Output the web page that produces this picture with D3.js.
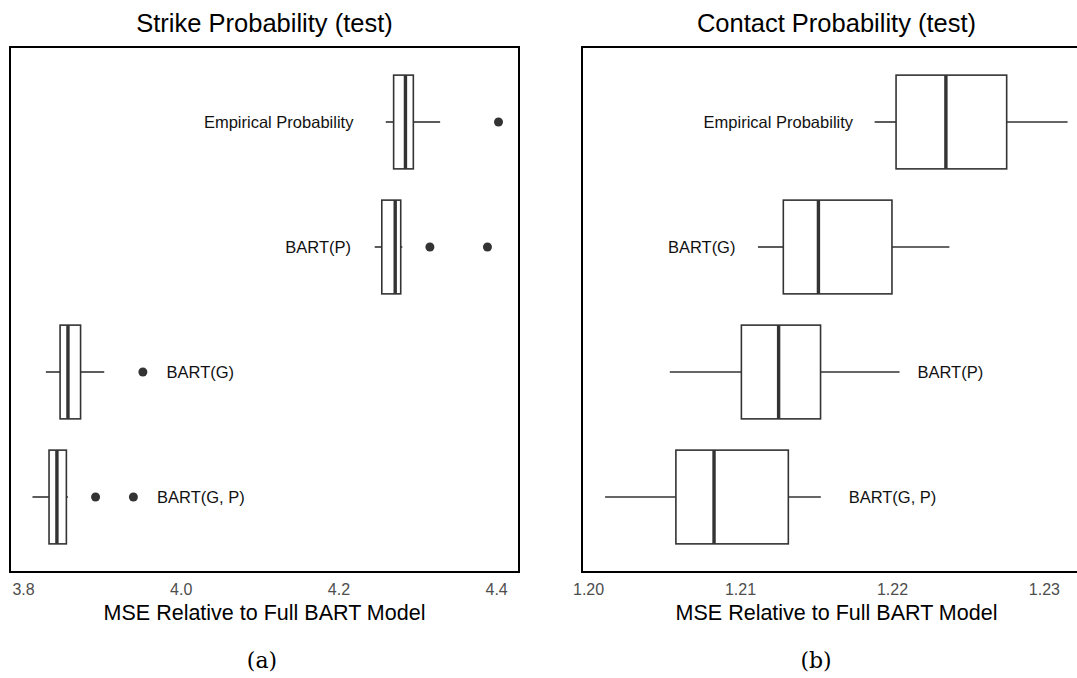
<!DOCTYPE html>
<html>
<head>
<meta charset="utf-8">
<script src="https://cdn.jsdelivr.net/npm/d3@7"></script>
<style>
    body { margin: 0; background: white; }
    svg { display: block; font-family: "Liberation Sans", Arial, sans-serif; }
</style>
</head>
<body>
<script>
// ---- data ----
const strike_cats = ["Empirical Probability", "BART(P)", "BART(G)", "BART(G, P)"];
const strike_lo = [4.260, 4.246, 3.829, 3.812];
const strike_q1 = [4.270, 4.255, 3.847, 3.833];
const strike_med = [4.285, 4.272, 3.857, 3.843];
const strike_q3 = [4.295, 4.279, 3.873, 3.855];
const strike_hi = [4.329, 4.281, 3.903, 3.857];
const strike_out = [[4.403], [4.316, 4.389], [3.952], [3.892, 3.940]];
const strike_label_x = [4.219, 4.216, 3.982, 3.970];
const strike_ticks = [3.8, 4.0, 4.2, 4.4];

const contact_cats = ["Empirical Probability", "BART(G)", "BART(P)", "BART(G, P)"];
const contact_lo = [1.21886, 1.21118, 1.20538, 1.20112];
const contact_q1 = [1.22027, 1.21285, 1.21009, 1.20578];
const contact_med = [1.22355, 1.21516, 1.21254, 1.20829];
const contact_q3 = [1.22755, 1.22000, 1.21530, 1.21318];
const contact_hi = [1.23156, 1.22378, 1.22050, 1.21532];
const contact_out = [[], [], [], []];
const contact_label_x = [1.21744, 1.20970, 1.22168, 1.21715];
const contact_ticks = [1.20, 1.21, 1.22, 1.23];

const W = 1077, H = 678;

const svg = d3.select("body")
    .append("svg")
    .attr("width", W)
    .attr("height", H);

function make_panel(opts) {
    const { left, right, top, bottom, domain, title, caption, fmt } = opts;
    const g = svg.append("g");

    const x = d3.scaleLinear().domain(domain).range([left, right]);
    const y = d3.scalePoint()
        .domain(opts.cats)
        .range([top, bottom])
        .padding(0.6);
    const box_h = y.step() * 0.75;

    const rows = opts.cats.map((c, i) => ({
        cat: c,
        lo: opts.lo[i], q1: opts.q1[i], med: opts.med[i],
        q3: opts.q3[i], hi: opts.hi[i],
        out: opts.out[i], lx: opts.label_x[i]
    }));

    const row = g.selectAll("g.row")
        .data(rows)
        .join("g")
        .attr("class", "row");

    // whiskers
    row.append("line")
        .attr("x1", d => x(d.lo))
        .attr("x2", d => x(d.q1))
        .attr("y1", d => y(d.cat))
        .attr("y2", d => y(d.cat))
        .attr("stroke", "#333")
        .attr("stroke-width", 1.6);
    row.append("line")
        .attr("x1", d => x(d.q3))
        .attr("x2", d => x(d.hi))
        .attr("y1", d => y(d.cat))
        .attr("y2", d => y(d.cat))
        .attr("stroke", "#333")
        .attr("stroke-width", 1.6);

    // box
    row.append("rect")
        .attr("x", d => x(d.q1))
        .attr("width", d => x(d.q3) - x(d.q1))
        .attr("y", d => y(d.cat) - box_h / 2)
        .attr("height", box_h)
        .attr("fill", "white")
        .attr("stroke", "#333")
        .attr("stroke-width", 1.6);

    // median
    row.append("line")
        .attr("x1", d => x(d.med))
        .attr("x2", d => x(d.med))
        .attr("y1", d => y(d.cat) - box_h / 2)
        .attr("y2", d => y(d.cat) + box_h / 2)
        .attr("stroke", "#333")
        .attr("stroke-width", 3.4);

    // outliers
    row.selectAll("circle")
        .data(d => d.out.map(v => ({ v, cat: d.cat })))
        .join("circle")
        .attr("cx", d => x(d.v))
        .attr("cy", d => y(d.cat))
        .attr("r", 4.5)
        .attr("fill", "#333");

    // model labels
    row.append("text")
        .attr("x", d => x(d.lx))
        .attr("y", d => y(d.cat))
        .attr("dy", "0.36em")
        .attr("text-anchor", d => d.lx < d.med ? "end" : "start")
        .attr("font-size", 16.5)
        .attr("fill", "#111")
        .text(d => d.cat);

    // frame
    g.append("rect")
        .attr("x", left)
        .attr("y", top)
        .attr("width", right - left)
        .attr("height", bottom - top)
        .attr("fill", "none")
        .attr("stroke", "black")
        .attr("stroke-width", 2);

    // x axis: labels only, no ticks or domain line
    const ax = g.append("g")
        .attr("transform", `translate(0, ${bottom})`)
        .call(d3.axisBottom(x)
            .tickValues(opts.ticks)
            .tickFormat(fmt)
            .tickSize(0)
            .tickPadding(12));
    ax.select(".domain").remove();
    ax.selectAll("text")
        .attr("font-family", "Liberation Sans, Arial, sans-serif")
        .attr("font-size", 16)
        .attr("fill", "#4d4d4d");

    const cx = (left + right) / 2;
    g.append("text")
        .attr("x", cx)
        .attr("y", bottom + 48)
        .attr("text-anchor", "middle")
        .attr("font-size", 21.5)
        .attr("fill", "black")
        .text("MSE Relative to Full BART Model");

    g.append("text")
        .attr("x", cx)
        .attr("y", top - 15)
        .attr("text-anchor", "middle")
        .attr("font-size", 25.5)
        .attr("fill", "black")
        .text(title);

    g.append("text")
        .attr("x", opts.caption_x)
        .attr("y", bottom + 96)
        .attr("text-anchor", "middle")
        .attr("font-family", "DejaVu Serif, Liberation Serif, serif")
        .attr("font-size", 22)
        .attr("fill", "black")
        .text(caption);
}

make_panel({
    cats: strike_cats, lo: strike_lo, q1: strike_q1, med: strike_med,
    q3: strike_q3, hi: strike_hi, out: strike_out, label_x: strike_label_x,
    ticks: strike_ticks, fmt: d3.format(".1f"),
    domain: [3.7835, 4.429],
    left: 10, right: 519, top: 47, bottom: 572, caption_x: 262,
    title: "Strike Probability (test)", caption: "(a)"
});

make_panel({
    cats: contact_cats, lo: contact_lo, q1: contact_q1, med: contact_med,
    q3: contact_q3, hi: contact_hi, out: contact_out, label_x: contact_label_x,
    ticks: contact_ticks, fmt: d3.format(".2f"),
    domain: [1.1996, 1.2331],
    left: 582, right: 1091, top: 47, bottom: 572, caption_x: 816,
    title: "Contact Probability (test)", caption: "(b)"
});
</script>
</body>
</html>
